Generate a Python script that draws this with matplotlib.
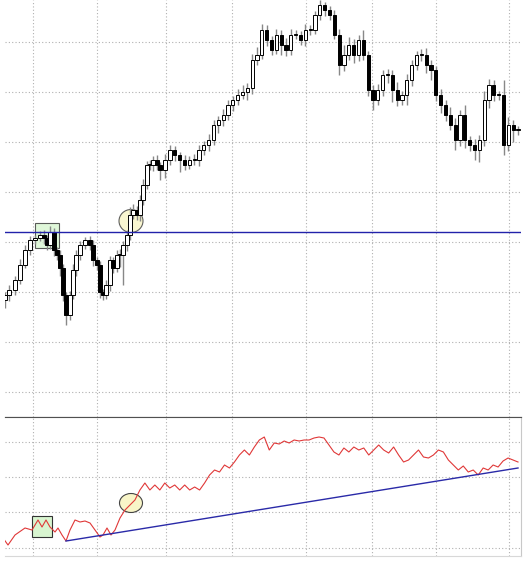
import numpy as np
import matplotlib
matplotlib.use("Agg")
import matplotlib.pyplot as plt
from matplotlib.patches import Rectangle, Ellipse

# price closes
closes = [305, 310, 320, 335, 350, 360, 362, 365, 362, 355,
          368, 350, 345, 332, 305, 285, 305, 330, 345, 355,
          360, 355, 340, 335, 308, 305, 315, 340, 332, 345,
          345, 355, 365, 385, 390, 385, 400, 415, 435, 435,
          440, 435, 430, 440, 450, 445, 440, 435, 440, 440,
          450, 455, 460, 475, 480, 485, 495, 500, 505, 508,
          512, 540, 545, 570, 560, 550, 565, 555, 550, 565,
          565, 560, 570, 570, 585, 595, 590, 585, 565, 535,
          545, 555, 545, 560, 545, 510, 500, 510, 525, 525,
          510, 500, 505, 520, 535, 545, 545, 535, 530, 505,
          495, 485, 475, 460, 485, 460, 455, 450, 460, 500,
          515, 505, 505, 455, 475, 470, 470]
# horizontal position (time) of the first 45 candles, the rest are evenly spread
early_t = [5, 9, 15, 20, 25, 30, 35, 40, 44, 47, 50, 54, 57, 60, 63, 66, 70, 73, 76, 80,
           85, 90, 93, 97, 100, 103, 106, 110, 113, 117, 120, 123, 127, 130, 133, 137, 140, 143, 147, 150,
           153, 157, 160, 165]
first_open = 300
wick_up = [3, 5, 4, 6, 5, 4, 3, 4, 5, 3, 6, 4, 3, 5, 4, 3, 4, 6, 5, 4,
           3, 4, 5, 3, 4, 3, 5, 4, 3, 5, 6, 4, 5, 8, 6, 4, 5, 6, 4, 5,
           4, 5, 3, 6, 5, 4, 3, 5, 4, 6, 5, 4, 6, 5, 4, 6, 5, 4, 6, 7,
           5, 6, 8, 6, 5, 4, 6, 5, 7, 6, 5, 4, 6, 5, 4, 5, 3, 4, 5, 6,
           10, 8, 6, 5, 10, 4, 5, 6, 5, 6, 5, 8, 4, 6, 5, 4, 6, 7, 5, 4,
           6, 5, 8, 7, 5, 10, 4, 6, 5, 9, 6, 5, 4, 15, 8, 5, 4]
wick_dn = [8, 6, 5, 4, 3, 5, 4, 3, 6, 5, 4, 6, 5, 8, 6, 10, 5, 4, 6, 5,
           4, 5, 6, 5, 6, 5, 4, 6, 5, 4, 12, 30, 6, 5, 4, 5, 6, 5, 4, 5,
           6, 5, 10, 8, 5, 6, 12, 5, 4, 5, 6, 5, 6, 5, 8, 6, 5, 6, 5, 4,
           8, 6, 5, 4, 6, 5, 4, 10, 6, 5, 4, 5, 6, 5, 4, 5, 6, 5, 4, 10,
           6, 5, 8, 6, 5, 6, 10, 5, 6, 8, 12, 6, 5, 10, 6, 5, 6, 8, 10, 6,
           8, 6, 5, 10, 6, 8, 6, 10, 12, 6, 8, 6, 5, 10, 6, 12, 5]

# lower indicator line
indicator = [62, 55, 65, 72, 70, 80, 73, 80, 73, 68, 72, 65, 59, 70, 80, 78, 79, 77, 70, 63,
             65, 72, 65, 70, 82, 90, 95, 100, 110, 117, 110, 115, 110, 117, 112, 115, 110, 115, 110, 113,
             110, 117, 125, 130, 128, 135, 132, 138, 145, 150, 145, 153, 160, 163, 150, 157, 156, 159, 157, 160,
             159, 160, 160, 162, 163, 162, 155, 148, 145, 152, 148, 153, 150, 152, 145, 150, 155, 150, 147, 153,
             145, 138, 140, 145, 150, 143, 142, 145, 150, 148, 140, 135, 130, 134, 128, 130, 125, 132, 130, 135,
             133, 139, 142, 140, 138]
ind_early_t = [3, 8, 15, 25, 32, 38, 42, 46, 50, 55, 58, 62, 66, 70, 75, 80, 85, 90, 95, 100,
               103, 107, 111, 115, 120]
trend_x = [66, 518]
trend_y = [59, 132]
support_level = 368
vgrid = [33, 97, 166, 232, 306, 372, 436, 509]
hgrid_top = [558, 508, 458, 408, 358, 308, 258, 208]
hgrid_bot = [158, 123, 88, 52]

W, H = 524, 563
fig = plt.figure(figsize=(W / 100, H / 100), dpi=100)
ax1 = fig.add_axes([5 / W, (H - 417) / H, 516 / W, 417 / H])
ax2 = fig.add_axes([5 / W, 7 / H, 516 / W, 139 / H])

for ax in (ax1, ax2):
    ax.set_xlim(5, 521)
    ax.set_xticks(vgrid)
    ax.tick_params(length=0, labelbottom=False, labelleft=False)
    ax.grid(True, color="#b0b0b0", linestyle=(0, (1, 2)), linewidth=0.8)
    ax.set_axisbelow(True)
ax1.set_ylim(183, 600)
ax1.set_yticks(hgrid_top)
ax2.set_ylim(44, 183)
ax2.set_yticks(hgrid_bot)

for s in ["top", "left", "right"]:
    ax1.spines[s].set_visible(False)
ax1.spines["bottom"].set_color("#505050")
ax2.spines["left"].set_visible(False)
ax2.spines["top"].set_color("#505050")
ax2.spines["right"].set_color("#c8c8c8")
ax2.spines["bottom"].set_color("#d8d8d8")

# candles
n = len(closes)
xs = np.concatenate([early_t, np.linspace(170, 518, n - len(early_t))])
opens = [first_open] + closes[:-1]
for x, o, c, wu, wd in zip(xs, opens, closes, wick_up, wick_dn):
    hi = max(o, c) + wu
    lo = min(o, c) - wd
    ax1.vlines(x, lo, hi, color="#888888", linewidth=1, zorder=2)
    up = c >= o
    body = max(abs(c - o), 1.5)
    ax1.add_patch(Rectangle((x - 1.6, min(o, c)), 3.2, body,
                            facecolor="white" if up else "black",
                            edgecolor="black", linewidth=0.7, zorder=3))

ax1.axhline(support_level, color="#2222aa", linewidth=1, zorder=4)
ax1.add_patch(Rectangle((35, 352), 24, 25, facecolor="#d8f5d0", edgecolor="#333333",
                        linewidth=0.8, alpha=0.8, zorder=1))
ax1.add_patch(Ellipse((131, 379), 24, 23, facecolor="#f8f5c8", edgecolor="#444444",
                      linewidth=0.8, alpha=0.85, zorder=1))

# indicator panel
ix = np.concatenate([ind_early_t, np.linspace(125, 518, len(indicator) - len(ind_early_t))])
ax2.plot(ix, indicator, color="#e03838", linewidth=0.8, zorder=3)
ax2.plot(trend_x, trend_y, color="#2a2aa8", linewidth=1, zorder=3)
ax2.add_patch(Rectangle((32, 63), 20, 21, facecolor="#d8f5d0", edgecolor="#333333",
                        linewidth=0.8, zorder=2))
ax2.add_patch(Ellipse((131, 97), 23, 19, facecolor="#f8f5c8", edgecolor="#444444",
                      linewidth=0.8, zorder=2))

fig.savefig("out.png", dpi=100)
